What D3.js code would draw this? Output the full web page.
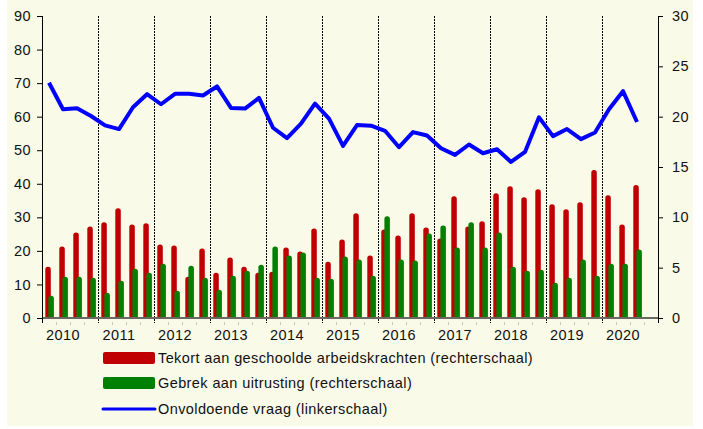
<!DOCTYPE html>
<html><head><meta charset="utf-8">
<script src="https://cdn.jsdelivr.net/npm/d3@7"></script>
<style>
html,body{margin:0;padding:0;background:#ffffff;}
svg{display:block;font-family:"Liberation Sans",Arial,Helvetica,sans-serif;}
svg text{letter-spacing:0.4px;}
</style></head>
<body>
<svg id="c" width="703" height="429"></svg>
<script>
const years = ["2010","2011","2012","2013","2014","2015","2016","2017","2018","2019","2020"];
const leftTicks = [0,10,20,30,40,50,60,70,80,90];
const rightTicks = [0,5,10,15,20,25,30];
// Tekort aan geschoolde arbeidskrachten (rechterschaal), per kwartaal 2010Q1-2020Q3
const tekort = [5.1,7.1,8.5,9.1, 9.5,10.9,9.3,9.4, 7.3,7.2,4.1,6.9, 4.5,6.0,5.1,4.5,
  4.6,7.0,6.6,8.9, 5.6,7.8,10.4,6.2, 8.8,8.2,10.4,9.0, 7.9,12.1,9.1,9.6,
  12.4,13.1,12.0,12.8, 11.3,10.8,11.5,14.7, 12.2,9.3,13.2];
// Gebrek aan uitrusting (rechterschaal)
const gebrek = [2.2,4.1,4.1,4.0, 2.5,3.7,4.9,4.5, 5.4,2.7,5.2,4.0, 2.8,4.2,4.7,5.3,
  7.1,6.2,6.5,4.0, 3.9,6.1,5.8,4.2, 10.1,5.8,5.7,8.4, 9.2,7.0,9.5,7.0,
  8.5,5.1,4.7,4.8, 3.5,4.0,5.8,4.2, 5.4,5.4,6.8];
// Onvoldoende vraag (linkerschaal)
const vraag = [70.1,62.2,62.5,60.2, 57.4,56.3,62.8,66.7, 63.7,66.8,66.8,66.3, 69.0,62.6,62.4,65.6,
  56.7,53.6,57.9,63.9, 59.4,51.3,57.5,57.3, 55.8,50.9,55.4,54.4, 50.6,48.6,51.7,49.1,
  50.3,46.5,49.5,59.8, 54.2,56.3,53.3,55.3, 62.2,67.6,58.4];
const legendLabels = ["Tekort aan geschoolde arbeidskrachten (rechterschaal)","Gebrek aan uitrusting (rechterschaal)","Onvoldoende vraag (linkerschaal)"];
const colors = {red:"#c00000", green:"#008000", blue:"#0000ff"};

const svg = d3.select("#c");
const L = 42, R = 658, T = 16, B = 318;
const FS = 14.5;
svg.append("rect").attr("x",7).attr("y",0).attr("width",686).attr("height",426).attr("fill","#fafae8");

const x = d3.scaleBand().domain(d3.range(years.length*4)).range([L,R]).padding(0);
const xYear = d3.scaleBand().domain(years).range([L,R]).padding(0);
const yL = d3.scaleLinear().domain([0,90]).range([B,T]);
const yR = d3.scaleLinear().domain([0,30]).range([B,T]);
const bw = x.bandwidth();

// year separators
svg.append("g").selectAll("line").data(years.slice(1)).join("line")
  .attr("x1",d=>xYear(d)+0.5).attr("x2",d=>xYear(d)+0.5).attr("y1",T).attr("y2",B+5)
  .attr("stroke","#000").attr("stroke-width",1).attr("stroke-dasharray","2,1");
// quarter minor marks
svg.append("g").selectAll("line").data(d3.range(years.length*4).filter(i=>i%4!==0)).join("line")
  .attr("x1",i=>x(i)+0.5).attr("x2",i=>x(i)+0.5).attr("y1",B+4).attr("y2",B+7)
  .attr("stroke","#c8c8b8").attr("stroke-width",1);

function topRound(x0,y0,w,h,r){
  if(h<=0) return "";
  r=Math.min(r,w/2,h);
  return `M${x0},${y0+h}V${y0+r}A${r},${r} 0 0 1 ${x0+r},${y0}H${x0+w-r}A${r},${r} 0 0 1 ${x0+w},${y0+r}V${y0+h}Z`;
}
const bwid = 5.5;
svg.append("g").selectAll("path").data(tekort).join("path")
  .attr("d",(d,i)=>topRound(x(i)+3.3, yR(d), bwid, B-yR(d), 2.7)).attr("fill",colors.red);
svg.append("g").selectAll("path").data(gebrek).join("path")
  .attr("d",(d,i)=>topRound(x(i)+6.4, yR(d), bwid, B-yR(d), 2.7)).attr("fill",colors.green);

// baseline
svg.append("line").attr("x1",L).attr("x2",R).attr("y1",B).attr("y2",B).attr("stroke","#6a6a60").attr("stroke-width",2);

// line
svg.append("path").datum(vraag)
  .attr("d", d3.line().x((d,i)=>x(i)+bw/2).y(d=>yL(d)))
  .attr("fill","none").attr("stroke",colors.blue).attr("stroke-width",4).attr("stroke-linejoin","round");

// axes
const ax = svg.append("g").attr("transform",`translate(${L},0)`)
  .call(d3.axisLeft(yL).tickValues(leftTicks).tickSize(5).tickPadding(6).tickFormat(d3.format("d")));
const ay = svg.append("g").attr("transform",`translate(${R},0)`)
  .call(d3.axisRight(yR).tickValues(rightTicks).tickSize(5).tickPadding(9).tickFormat(d3.format("d")));
[ax,ay].forEach(g=>{
  g.select(".domain").attr("d", null);
  g.selectAll(".tick text").attr("font-size",FS).attr("fill","#111").attr("font-family","'Liberation Sans',Arial,sans-serif");
  g.selectAll(".tick line").attr("stroke","#000");
});
svg.append("line").attr("x1",L+0.5).attr("x2",L+0.5).attr("y1",T).attr("y2",B+5).attr("stroke","#000");
svg.append("line").attr("x1",R+0.5).attr("x2",R+0.5).attr("y1",T).attr("y2",B+5).attr("stroke","#000");

// year labels
svg.append("g").selectAll("text").data(years).join("text")
  .attr("x",d=>xYear(d)+xYear.bandwidth()/2-7).attr("y",340)
  .attr("text-anchor","middle").attr("font-size",FS).attr("fill","#111").text(d=>d);

// legend
const lg = svg.append("g");
const rowsY = [358,383,409];
lg.append("rect").attr("x",103).attr("y",rowsY[0]-6).attr("width",52).attr("height",12).attr("rx",2).attr("fill",colors.red);
lg.append("rect").attr("x",103).attr("y",rowsY[1]-6).attr("width",52).attr("height",12).attr("rx",2).attr("fill",colors.green);
lg.append("line").attr("x1",103).attr("x2",155).attr("y1",rowsY[2]).attr("y2",rowsY[2]).attr("stroke",colors.blue).attr("stroke-width",3).attr("stroke-linecap","round");
lg.selectAll("text").data(legendLabels).join("text")
  .attr("x",158).attr("y",(d,i)=>rowsY[i]).attr("dy","0.35em")
  .attr("font-size",FS).attr("fill","#111").text(d=>d);
</script>
</body></html>
